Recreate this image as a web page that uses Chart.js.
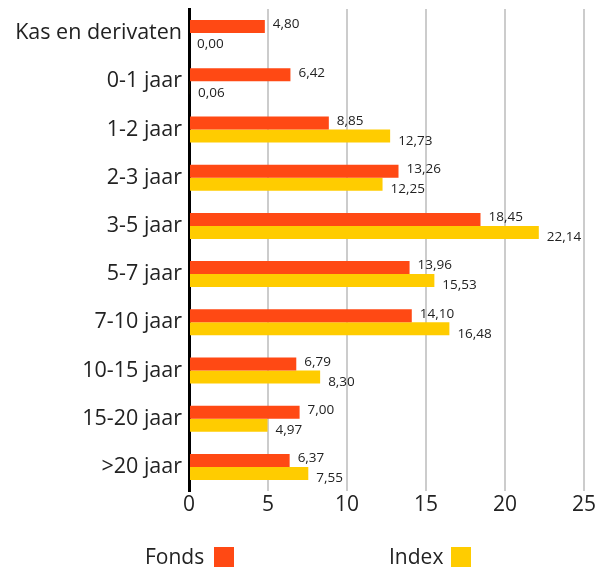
<!DOCTYPE html>
<html><head><meta charset="utf-8">
<script src="https://cdn.jsdelivr.net/npm/chart.js@4"></script>
<style>html,body{margin:0;padding:0;background:#fff}#wrap{width:608px;height:572px;position:relative}</style>
</head><body><div id="wrap"><canvas id="c" width="608" height="572"></canvas></div>
<script>
const categories = ["Kas en derivaten","0-1 jaar","1-2 jaar","2-3 jaar","3-5 jaar","5-7 jaar","7-10 jaar","10-15 jaar","15-20 jaar",">20 jaar"];
const fondsValues = [4.80, 6.42, 8.85, 13.26, 18.45, 13.96, 14.10, 6.79, 7.00, 6.37];
const indexValues = [0.00, 0.06, 12.73, 12.25, 22.14, 15.53, 16.48, 8.30, 4.97, 7.55];
const seriesNames = ["Fonds","Index"];
const xTicks = [0,5,10,15,20,25];

const FONT = "'Open Sans', sans-serif";
const TXT = "#222";
const colors = ["#FF4914","#FFCC00"];

const labelPlugin = {
  id: 'vals',
  afterDatasetsDraw(chart) {
    const ctx = chart.ctx;
    ctx.save();
    ctx.font = "13.5px " + FONT;
    ctx.fillStyle = TXT;
    ctx.textAlign = 'left';
    ctx.textBaseline = 'middle';
    chart.data.datasets.forEach((ds, di) => {
      const meta = chart.getDatasetMeta(di);
      meta.data.forEach((bar, i) => {
        const v = ds.data[i];
        const txt = v.toFixed(2).replace('.', ',');
        const dy = di === 0 ? -2 : 5;
        ctx.fillText(txt, bar.x + 8, bar.y + dy);
      });
    });
    ctx.restore();
  }
};

const legendPlugin = {
  id: 'customLegend',
  afterDraw(chart) {
    const ctx = chart.ctx;
    ctx.save();
    ctx.font = "21px " + FONT;
    ctx.textBaseline = 'middle';
    ctx.textAlign = 'left';
    const items = [{x:145, bx:214},{x:389, bx:451}];
    items.forEach((it, i) => {
      ctx.fillStyle = TXT;
      ctx.fillText(seriesNames[i], it.x, 558);
      ctx.fillStyle = colors[i];
      ctx.fillRect(it.bx, 547, 20, 20);
    });
    ctx.restore();
  }
};

new Chart(document.getElementById('c'), {
  type: 'bar',
  data: {
    labels: categories,
    datasets: [
      {label: seriesNames[0], data: fondsValues, backgroundColor: colors[0], categoryPercentage: 0.54, barPercentage: 1.0},
      {label: seriesNames[1], data: indexValues, backgroundColor: colors[1], categoryPercentage: 0.54, barPercentage: 1.0}
    ]
  },
  options: {
    indexAxis: 'y',
    responsive: false,
    animation: false,
    layout: {padding: {top: 9, right: 24, bottom: 51, left: 0}},
    plugins: {legend: {display: false}, tooltip: {enabled: false}},
    scales: {
      x: {
        min: 0, max: 25,
        afterBuildTicks(scale) { scale.ticks = xTicks.map(v => ({value: v})); },
        afterFit(scale) { scale.height = 30; },
        grid: {color: '#cccccc', lineWidth: 2, drawTicks: false},
        border: {display: false},
        ticks: {font: {family: FONT, size: 21}, color: TXT, padding: 1}
      },
      y: {
        afterFit(scale) { scale.width = 189; scale.paddingTop = 0; scale.paddingBottom = 0; },
        grid: {display: false, drawTicks: false},
        border: {display: true, color: '#000', width: 3},
        ticks: {font: {family: FONT, size: 21.5}, color: TXT, padding: 7}
      }
    }
  },
  plugins: [labelPlugin, legendPlugin]
});
</script></body></html>
